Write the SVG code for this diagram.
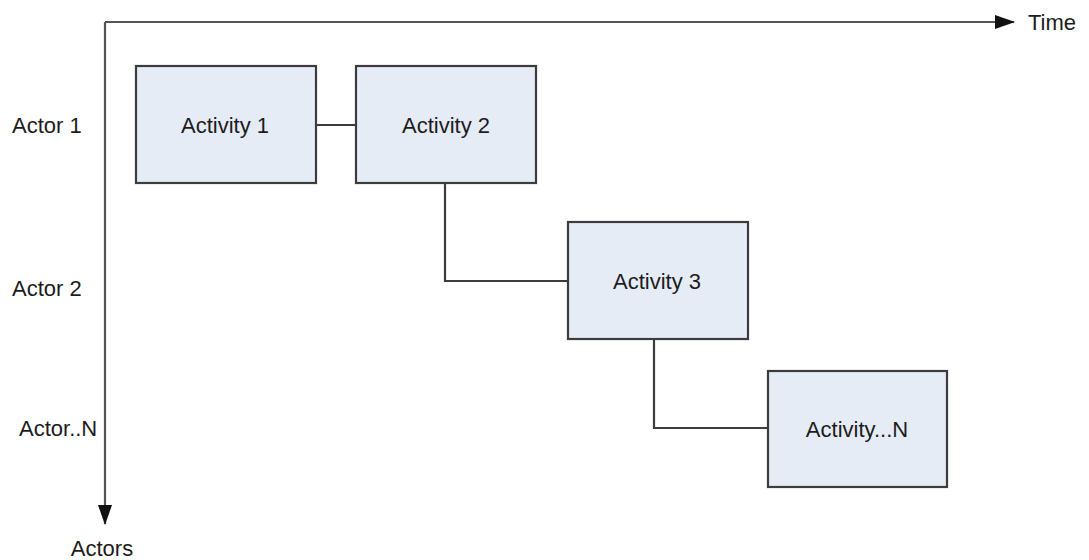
<svg xmlns="http://www.w3.org/2000/svg" width="1089" height="560" viewBox="0 0 1089 560">
<style>
.box{fill:#e6ecf6;stroke:#3c3c3c;stroke-width:2.2}
.t{font-family:"Liberation Sans",Arial,sans-serif;font-size:22px;fill:#1c1c1c}
.c{fill:none;stroke:#3c3c3c;stroke-width:2.2}
.ax{fill:none;stroke:#555;stroke-width:2.2}
</style>
<defs>
<marker id="ah" markerWidth="20" markerHeight="14" refX="19" refY="7" orient="auto" markerUnits="userSpaceOnUse">
<path d="M0,0 L20,7 L0,14 Z" fill="#111"/>
</marker>
</defs>
<rect width="1089" height="560" fill="#fff"/>
<g id="axes">
<path class="ax" d="M105,22 L1014,22" marker-end="url(#ah)"/>
<path class="ax" d="M105,22 L105,524" marker-end="url(#ah)"/>
</g>
<g id="labels">
<text class="t" x="1028" y="30">Time</text>
<text class="t" x="102" y="556" text-anchor="middle">Actors</text>
<text class="t" x="12" y="133">Actor 1</text>
<text class="t" x="12" y="296">Actor 2</text>
<text class="t" x="19" y="436">Actor..N</text>
</g>
<g id="connectors">
<path class="c" d="M316,125 L356,125"/>
<path class="c" d="M445,183 L445,281 L568,281"/>
<path class="c" d="M654,339 L654,428 L768,428"/>
</g>
<g id="activity1">
<rect class="box" x="136" y="66" width="180" height="117"/>
<text class="t" x="225" y="133" text-anchor="middle">Activity 1</text>
</g>
<g id="activity2">
<rect class="box" x="356" y="66" width="180" height="117"/>
<text class="t" x="446" y="133" text-anchor="middle">Activity 2</text>
</g>
<g id="activity3">
<rect class="box" x="568" y="222" width="180" height="117"/>
<text class="t" x="657" y="289" text-anchor="middle">Activity 3</text>
</g>
<g id="activityN">
<rect class="box" x="768" y="371" width="179" height="116"/>
<text class="t" x="857" y="437" text-anchor="middle">Activity...N</text>
</g>
</svg>
